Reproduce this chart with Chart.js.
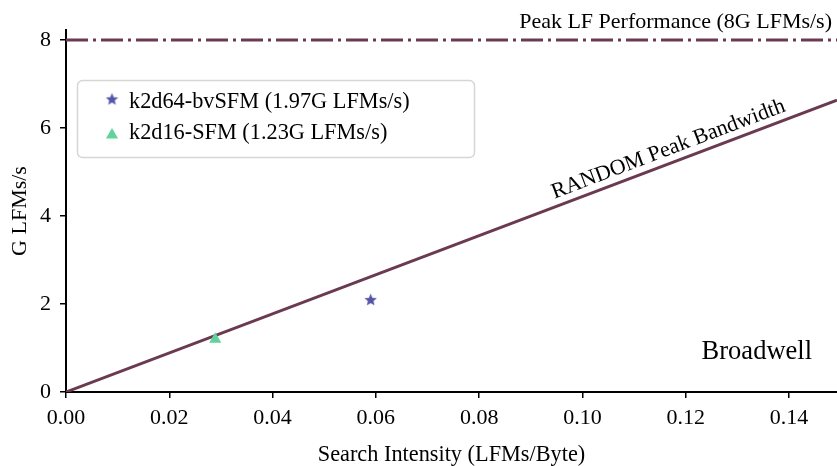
<!DOCTYPE html>
<html>
<head>
<meta charset="utf-8">
<script src="https://cdn.jsdelivr.net/npm/chart.js@4.4.1/dist/chart.umd.min.js"></script>
<style>
html,body{margin:0;padding:0;background:#fff;}
#wrap{width:837px;height:466px;position:relative;}
</style>
</head>
<body>
<div id="wrap"><canvas id="c" width="837" height="466"></canvas></div>
<script>
// ---- data ----
const xTicks = [0.00, 0.02, 0.04, 0.06, 0.08, 0.10, 0.12, 0.14];
const yTicks = [0, 2, 4, 6, 8];
const bandwidthLineX = [0, 0.1493];
const bandwidthLineY = [0, 6.63];
const peakLineX = [0, 0.1493];
const peakLineY = [8, 8];
const seriesNames = ['k2d64-bvSFM (1.97G LFMs/s)', 'k2d16-SFM (1.23G LFMs/s)'];
const seriesIntensity = [0.059, 0.0289];
const seriesPerf = [2.10, 1.20];
const colors = { roof: '#6b3a50', star: '#5555a8', tri: '#5fd39b' };
const FONT = '"Liberation Serif", "Times New Roman", serif';

function starCanvas(size, color) {
  const c = document.createElement('canvas');
  c.width = size; c.height = size;
  const g = c.getContext('2d');
  const cx = size / 2, cy = size / 2 + 0.6, R = size / 2, r = R * 0.45;
  g.beginPath();
  for (let i = 0; i < 10; i++) {
    const a = -Math.PI / 2 + i * Math.PI / 5;
    const rr = i % 2 === 0 ? R : r;
    const px = cx + rr * Math.cos(a), py = cy + rr * Math.sin(a);
    if (i === 0) g.moveTo(px, py); else g.lineTo(px, py);
  }
  g.closePath();
  g.fillStyle = color;
  g.fill();
  return c;
}
const starImg = starCanvas(13, colors.star);

const annot = {
  id: 'annot',
  afterDraw(chart) {
    const { ctx, chartArea, scales } = chart;
    const xs = scales.x, ys = scales.y;
    ctx.save();
    // peak label
    ctx.font = '22px ' + FONT;
    ctx.fillStyle = '#000';
    ctx.textAlign = 'right';
    ctx.textBaseline = 'alphabetic';
    ctx.fillText('Peak LF Performance (8G LFMs/s)', chartArea.right - 5, ys.getPixelForValue(peakLineY[0]) - 12);
    // rotated bandwidth label
    const x0 = xs.getPixelForValue(bandwidthLineX[0]), y0 = ys.getPixelForValue(bandwidthLineY[0]);
    const x1 = xs.getPixelForValue(bandwidthLineX[1]), y1 = ys.getPixelForValue(bandwidthLineY[1]);
    const ang = Math.atan2(y1 - y0, x1 - x0);
    const tx = 0.1176;
    const px = xs.getPixelForValue(tx);
    const py = y0 + (y1 - y0) * (px - x0) / (x1 - x0);
    ctx.translate(px, py);
    ctx.rotate(ang);
    ctx.textAlign = 'center';
    ctx.textBaseline = 'alphabetic';
    ctx.fillText('RANDOM Peak Bandwidth', 0, -8);
    ctx.setTransform(1, 0, 0, 1, 0, 0);
    // Broadwell
    ctx.font = '26.5px ' + FONT;
    ctx.textAlign = 'right';
    ctx.textBaseline = 'middle';
    ctx.fillText('Broadwell', chartArea.right - 25, 352);
    // legend
    const lx = 77.5, ly = 80.5, lw = 397, lh = 77, rad = 5;
    ctx.beginPath();
    ctx.moveTo(lx + rad, ly);
    ctx.arcTo(lx + lw, ly, lx + lw, ly + lh, rad);
    ctx.arcTo(lx + lw, ly + lh, lx, ly + lh, rad);
    ctx.arcTo(lx, ly + lh, lx, ly, rad);
    ctx.arcTo(lx, ly, lx + lw, ly, rad);
    ctx.closePath();
    ctx.fillStyle = 'rgba(255,255,255,0.8)';
    ctx.fill();
    ctx.strokeStyle = '#d6d6d6';
    ctx.lineWidth = 1.5;
    ctx.stroke();
    ctx.font = '22.3px ' + FONT;
    ctx.fillStyle = '#000';
    ctx.textAlign = 'left';
    ctx.textBaseline = 'middle';
    ctx.drawImage(starImg, 112 - 6.5, 99 - 6.5);
    ctx.fillText(seriesNames[0], 129, 102);
    // triangle
    ctx.beginPath();
    const tr = 7, tcx = 112, tcy = 135;
    ctx.moveTo(tcx, tcy - tr);
    ctx.lineTo(tcx + tr * Math.sin(2 * Math.PI / 3), tcy - tr * Math.cos(2 * Math.PI / 3));
    ctx.lineTo(tcx - tr * Math.sin(2 * Math.PI / 3), tcy - tr * Math.cos(2 * Math.PI / 3));
    ctx.closePath();
    ctx.fillStyle = colors.tri;
    ctx.fill();
    ctx.fillStyle = '#000';
    ctx.fillText(seriesNames[1], 129, 133);
    ctx.restore();
  }
};

const toPts = (xa, ya) => xa.map((x, i) => ({ x: x, y: ya[i] }));

new Chart(document.getElementById('c'), {
  type: 'scatter',
  data: {
    datasets: [
      { type: 'line', label: 'roof', data: toPts(bandwidthLineX, bandwidthLineY), borderColor: colors.roof, borderWidth: 3, pointRadius: 0, fill: false, order: 3 },
      { type: 'line', label: 'peak', data: toPts(peakLineX, peakLineY), borderColor: colors.roof, borderWidth: 3, borderDash: [22, 5, 3, 5], pointRadius: 0, fill: false, order: 3 },
      { label: seriesNames[0], data: [{ x: seriesIntensity[0], y: seriesPerf[0] }], pointStyle: starImg, backgroundColor: colors.star, borderColor: colors.star, order: 1 },
      { label: seriesNames[1], data: [{ x: seriesIntensity[1], y: seriesPerf[1] }], pointStyle: 'triangle', pointRadius: 7, backgroundColor: colors.tri, borderColor: colors.tri, borderWidth: 0, order: 2 }
    ]
  },
  options: {
    responsive: false,
    animation: false,
    layout: { autoPadding: false, padding: { top: 30, right: 0, bottom: 0, left: 0 } },
    plugins: { legend: { display: false }, tooltip: { enabled: false } },
    scales: {
      x: {
        type: 'linear', min: 0, max: 0.1493,
        afterFit(s) { s.height = 74; s.paddingLeft = 0; s.paddingRight = 0; },
        afterBuildTicks(s) { s.ticks = xTicks.map(v => ({ value: v })); },
        ticks: { color: '#000', font: { family: FONT, size: 22 }, padding: 7, callback: v => v.toFixed(2), maxRotation: 0, autoSkip: false },
        grid: { drawOnChartArea: false, drawTicks: true, tickLength: 6, color: '#000', lineWidth: 1.5 },
        border: { display: true, color: '#000', width: 2 },
        title: { display: true, text: 'Search Intensity (LFMs/Byte)', color: '#000', font: { family: FONT, size: 22.3, lineHeight: 1 }, padding: { top: 0, bottom: 0 } }
      },
      y: {
        type: 'linear', min: 0, max: 8.227,
        afterFit(s) { s.width = 66; s.paddingTop = 0; s.paddingBottom = 0; },
        afterBuildTicks(s) { s.ticks = yTicks.map(v => ({ value: v })); },
        ticks: { color: '#000', font: { family: FONT, size: 22 }, padding: 9, callback: v => String(v) },
        grid: { drawOnChartArea: false, drawTicks: true, tickLength: 6, color: '#000', lineWidth: 1.5 },
        border: { display: true, color: '#000', width: 2 },
        title: { display: true, text: 'G LFMs/s', color: '#000', font: { family: FONT, size: 22, lineHeight: 1 }, padding: { top: 9, bottom: 0 } }
      }
    }
  },
  plugins: [annot]
});
</script>
</body>
</html>
